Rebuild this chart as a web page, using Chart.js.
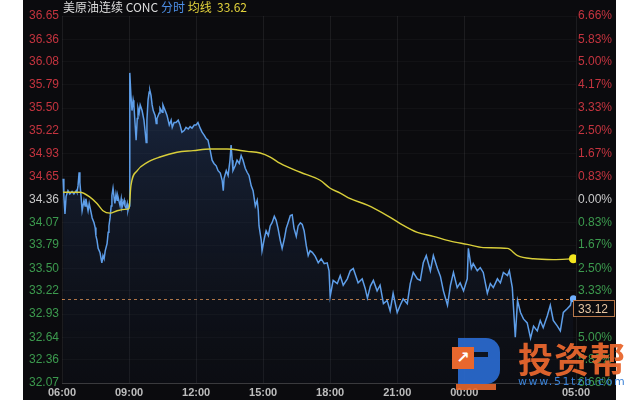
<!DOCTYPE html>
<html>
<head>
<meta charset="utf-8">
<script src="https://cdn.jsdelivr.net/npm/chart.js@4.4.1/dist/chart.umd.min.js"></script>
<style>
  html, body { margin: 0; padding: 0; background: #ffffff; }
  body { width: 640px; height: 400px; position: relative; overflow: hidden; }
  #panel { position: absolute; left: 23px; top: 0; width: 593px; height: 400px; background: #0b0b0e; }
  #title { position: absolute; left: 63px; top: 0; font: 12px "Noto Sans CJK SC", sans-serif; line-height: 14px; white-space: pre; }
  .wm { position: absolute; }
</style>
</head>
<body>
<div id="panel"><canvas id="metricChart"></canvas></div>
<div id="title"><span style="color:#dcdcdc">美原油连续 CONC</span> <span style="color:#4d8fe6">分时</span> <span style="color:#e3d33c">均线</span>  <span style="color:#e3d33c">33.62</span></div>

<!-- watermark -->
<div class="wm" style="left:458px;top:338px;width:42px;height:46px;background:#2a6ad0;border-radius:0 14px 14px 0;opacity:0.92"></div>
<div class="wm" style="left:466px;top:352px;width:22px;height:5px;background:#0b0b0e;opacity:0.9"></div>
<div class="wm" style="left:452px;top:347px;width:22px;height:22px;background:#e8672e;color:#fff;font:bold 16px 'DejaVu Sans';line-height:22px;text-align:center">↗</div>
<div class="wm" style="left:456px;top:384px;width:40px;height:6px;background:#e8672e;opacity:0.9"></div>
<div class="wm" style="left:518px;top:332px;font:bold 35px 'Noto Sans CJK SC';color:#e8672e;letter-spacing:1px;opacity:0.95">投资帮</div>
<div class="wm" style="left:518px;top:375px;font:11px 'DejaVu Sans';color:#3b82d6;letter-spacing:1.6px">www.51tzb.com</div>

<script>
// session runs 06:00 -> 05:00, x values are minutes since 06:00
const xTickMinutes = [0, 180, 360, 540, 720, 900, 1080, 1380];
const xTickLabels = ['06:00', '09:00', '12:00', '15:00', '18:00', '21:00', '00:00', '05:00'];

const yTickValues = [32.07, 32.36, 32.64, 32.93, 33.22, 33.50, 33.79, 34.07, 34.36,
                     34.65, 34.93, 35.22, 35.50, 35.79, 36.08, 36.36, 36.65];
const pctLabels = ['6.66%', '5.83%', '5.00%', '4.17%', '3.33%', '2.50%', '1.67%', '0.83%', '0.00%',
                   '0.83%', '1.67%', '2.50%', '3.33%', '4.17%', '5.00%', '5.83%', '6.66%'];

const prevClose = 34.36;
const lastPrice = 33.12;

const priceMinutes = [
    3, 5, 8, 11, 16, 21, 27, 32, 38, 40, 43, 46, 48, 51, 54, 59, 62, 64, 70, 73,
    78, 81, 86, 89, 91, 94, 97, 102, 105, 107, 110, 113, 116, 121, 124, 126, 129, 132, 134, 137,
    140, 142, 145, 148, 150, 156, 159, 161, 167, 169, 172, 175, 177, 180, 182,
    185, 188, 191, 193, 199, 202, 204, 207, 210, 215, 220, 223, 226, 228, 231, 234, 236, 239, 242, 245,
    250, 253, 255, 261, 263, 269, 271, 277, 282, 288, 293, 296, 301, 306, 312, 317, 322, 328, 333, 339,
    344, 349, 355, 360, 365, 371, 376, 382, 387, 392, 398, 403, 408, 414, 419, 425, 430, 433, 435, 441,
    446, 451, 454, 457, 459, 465, 470, 476, 481, 486, 492, 497, 502, 508, 513, 519, 524, 527, 529, 535,
    537, 543, 548, 554, 559, 564, 570, 575, 580, 586, 591, 597, 602, 607, 613, 618, 623, 629, 634, 640,
    645, 650, 656, 661, 666, 672, 680, 688, 696, 704, 712, 717, 720, 728, 739,
    747, 755, 766, 774, 782, 787, 795, 806, 814, 820, 828, 836, 846, 854, 863, 873, 881, 889, 900, 908,
    916, 927, 935, 943, 954, 962, 970, 978, 989, 997, 1008, 1016, 1024, 1035, 1043, 1051, 1061, 1069, 1078, 1088,
    1091, 1099, 1104, 1115, 1123, 1131, 1142, 1150, 1158, 1169, 1177, 1185, 1196, 1201, 1209,
    1217, 1223, 1231, 1239, 1249, 1258, 1266, 1276, 1284, 1292, 1303, 1311, 1319, 1330, 1338,
    1346, 1357, 1365, 1370, 1373
];
const priceValues = [
    34.62, 34.41, 34.18, 34.40, 34.47, 34.43, 34.46, 34.43, 34.47, 34.45, 34.53, 34.70, 34.57, 34.41, 34.22, 34.35, 34.28, 34.37, 34.22, 34.31,
    34.20, 34.13, 34.07, 34.01, 33.91, 33.85, 33.75, 33.70, 33.62, 33.57, 33.66, 33.62, 33.72, 33.81, 33.95, 34.03, 34.13, 34.28, 34.41, 34.50,
    34.38, 34.31, 34.43, 34.35, 34.40, 34.28, 34.37, 34.26, 34.35, 34.28, 34.25, 34.31, 34.22, 34.28, 35.94,
    35.66, 35.47, 35.60, 35.54, 35.10, 35.37, 35.50, 35.44, 35.54, 35.47, 35.35, 35.22, 35.07, 35.35, 35.60, 35.70, 35.72, 35.66, 35.54, 35.47,
    35.41, 35.31, 35.37, 35.44, 35.50, 35.45, 35.54, 35.47, 35.41, 35.29, 35.35, 35.26, 35.32, 35.32, 35.35, 35.29, 35.20, 35.22, 35.26, 35.24,
    35.27, 35.25, 35.29, 35.29, 35.32, 35.25, 35.20, 35.16, 35.12, 35.10, 34.97, 34.85, 34.81, 34.78, 34.72, 34.69, 34.60, 34.47, 34.62, 34.72,
    34.66, 34.85, 35.04, 34.85, 34.72, 34.78, 34.85, 34.81, 34.91, 34.85, 34.75, 34.70, 34.66, 34.53, 34.47, 34.28, 34.35, 34.22, 34.03, 33.85,
    33.72, 33.87, 33.97, 33.91, 34.03, 34.07, 34.15, 34.10, 34.00, 33.85, 33.75, 33.87, 34.00, 34.07, 34.16, 34.17, 34.00, 33.90, 34.03, 34.07,
    34.05, 33.97, 33.78, 33.66, 33.72, 33.70, 33.65, 33.57, 33.62, 33.56, 33.57, 33.47, 33.15, 33.35, 33.31,
    33.41, 33.29, 33.37, 33.47, 33.50, 33.43, 33.32, 33.37, 33.25, 33.13, 33.28, 33.35, 33.22, 33.29, 33.06, 33.10, 32.97, 33.19, 32.95, 33.04,
    33.12, 33.06, 33.31, 33.45, 33.37, 33.35, 33.57, 33.66, 33.47, 33.66, 33.50, 33.40, 33.22, 33.04, 33.29, 33.45, 33.26, 33.32, 33.22, 33.37,
    33.75, 33.50, 33.56, 33.47, 33.51, 33.45, 33.19, 33.31, 33.26, 33.37, 33.32, 33.45, 33.41, 33.47, 33.26,
    32.64, 33.10, 32.95, 32.87, 32.82, 32.63, 32.78, 32.72, 32.85, 32.76, 32.91, 33.04, 32.85, 32.78, 32.72,
    32.95, 33.00, 33.04, 33.14, 33.12
];

const avgMinutes = [3, 48, 75, 94, 110, 129, 148, 175, 180, 185, 202, 228, 263, 309, 352, 398, 443, 497, 532, 559,
                    586, 640, 693, 720, 747, 774, 820, 873, 908, 954, 997, 1043, 1088, 1131, 1196, 1223, 1266, 1319, 1373];
const avgValues = [34.45, 34.45, 34.39, 34.31, 34.22, 34.19, 34.22, 34.24, 34.25, 34.53, 34.72, 34.82, 34.89, 34.95, 34.97, 34.99, 34.99, 34.96, 34.94, 34.89,
                   34.81, 34.70, 34.60, 34.50, 34.44, 34.37, 34.29, 34.16, 34.06, 33.95, 33.90, 33.84, 33.80, 33.76, 33.75, 33.66, 33.62, 33.61, 33.62];

const RED = '#c4343f', GREEN = '#3c9a4e', GREY = '#c8c8c8';

function tickColor(ctx)
{
    const v = ctx.tick.value;
    if (v > prevClose + 0.001) return RED;
    if (v < prevClose - 0.001) return GREEN;
    return GREY;
}

// dashed last price line and price box on the right axis
const lastPriceMarker = {
    id: 'lastPriceMarker',
    beforeDatasetsDraw(chart) {
        const {ctx, chartArea, scales} = chart;
        const py = Math.round(scales.y.getPixelForValue(lastPrice)) + 0.5;
        ctx.save();
        ctx.strokeStyle = '#d98b4a';
        ctx.lineWidth = 1;
        ctx.setLineDash([3, 3]);
        ctx.beginPath();
        ctx.moveTo(chartArea.left, py);
        ctx.lineTo(chartArea.right, py);
        ctx.stroke();
        ctx.restore();
    },
    afterDraw(chart) {
        const {ctx, chartArea, scales} = chart;
        const py = Math.round(scales.y.getPixelForValue(lastPrice));
        const bx = chartArea.right - 3, by = py + 1, bw = 42, bh = 17;
        ctx.save();
        ctx.fillStyle = '#0b0b0e';
        ctx.fillRect(bx, by, bw, bh);
        ctx.strokeStyle = '#b8784a';
        ctx.lineWidth = 1;
        ctx.strokeRect(bx + 0.5, by + 0.5, bw - 1, bh - 1);
        ctx.fillStyle = '#e6c6a2';
        ctx.font = '12px "Liberation Sans", Arial, sans-serif';
        ctx.textAlign = 'left';
        ctx.textBaseline = 'middle';
        ctx.fillText(lastPrice.toFixed(2), bx + 5, by + bh / 2 + 1);
        ctx.restore();
    }
};

function renderChart()
{
    const priceData = priceMinutes.map((m, i) => ({x: m, y: priceValues[i]}));
    const avgData = avgMinutes.map((m, i) => ({x: m, y: avgValues[i]}));

    const ctx = document.getElementById('metricChart').getContext('2d');
    new Chart(ctx, {
        type: 'line',
        data: {
            datasets: [{
                label: '均线',
                data: avgData,
                borderColor: '#d8ce3a',
                borderWidth: 1.4,
                cubicInterpolationMode: 'monotone',
                pointRadius: c => c.dataIndex === avgData.length - 1 ? 4.5 : 0,
                pointBackgroundColor: '#f3e51e',
                pointBorderWidth: 0,
                fill: false,
                order: 0
            }, {
                label: '分时',
                data: priceData,
                borderColor: '#5e9ee9',
                borderWidth: 1.5,
                tension: 0,
                pointRadius: c => c.dataIndex === priceData.length - 1 ? 3.5 : 0,
                pointBackgroundColor: '#6fb0ff',
                pointBorderWidth: 0,
                fill: 'start',
                backgroundColor: c => {
                    const a = c.chart.chartArea;
                    if (!a) return 'rgba(40,70,120,0.3)';
                    const g = c.chart.ctx.createLinearGradient(0, a.top, 0, a.bottom);
                    g.addColorStop(0, 'rgba(48,80,135,0.55)');
                    g.addColorStop(1, 'rgba(20,30,52,0.12)');
                    return g;
                },
                order: 1
            }]
        },
        options: {
            responsive: true,
            maintainAspectRatio: false,
            animation: false,
            layout: { padding: { top: 16, left: 0, right: 0, bottom: 0 } },
            plugins: { legend: { display: false }, tooltip: { enabled: false } },
            scales: {
                x: {
                    type: 'linear',
                    min: 0,
                    max: 1380,
                    afterBuildTicks: s => { s.ticks = xTickMinutes.map(v => ({value: v})); },
                    afterFit: s => { s.height = 17; },
                    ticks: {
                        callback: (v, i) => xTickLabels[i],
                        color: '#bdbdbd',
                        font: { family: '"Liberation Sans", Arial, sans-serif', size: 11, weight: 'bold' },
                        padding: 3,
                        maxRotation: 0,
                        autoSkip: false
                    },
                    grid: { color: 'rgba(255,255,255,0.07)', drawTicks: false },
                    border: { color: '#3a3a3d' }
                },
                y: {
                    position: 'left',
                    min: 32.07,
                    max: 36.65,
                    afterBuildTicks: s => { s.ticks = yTickValues.map(v => ({value: v})); },
                    afterFit: s => { s.width = 39; },
                    ticks: {
                        callback: v => v.toFixed(2),
                        color: tickColor,
                        font: { family: '"Liberation Sans", Arial, sans-serif', size: 12 },
                        padding: 3
                    },
                    grid: { color: 'rgba(255,255,255,0.03)', drawTicks: false },
                    border: { display: false }
                },
                y2: {
                    position: 'right',
                    min: 32.07,
                    max: 36.65,
                    afterBuildTicks: s => { s.ticks = yTickValues.map(v => ({value: v})); },
                    afterFit: s => { s.width = 40; },
                    ticks: {
                        callback: (v, i) => pctLabels[i],
                        color: tickColor,
                        font: { family: '"Liberation Sans", Arial, sans-serif', size: 12 },
                        padding: 2
                    },
                    grid: { display: false, drawTicks: false },
                    border: { display: false }
                }
            }
        },
        plugins: [lastPriceMarker]
    });
}

renderChart();
</script>
</body>
</html>
